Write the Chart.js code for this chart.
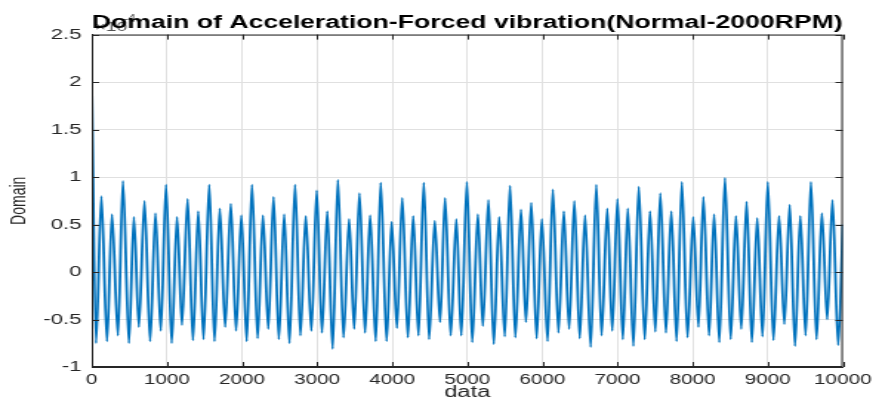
<!DOCTYPE html>
<html>
<head>
<meta charset="utf-8">
<script src="https://cdn.jsdelivr.net/npm/chart.js@4"></script>
<style>
    html, body { margin: 0; padding: 0; background: #ffffff; overflow: hidden; }
    #wrap { width: 879px; height: 408px; }
</style>
</head>
<body>
<div id="wrap">
    <!-- the figure in the picture was stretched sideways, so the canvas is drawn narrow and widened by CSS -->
    <canvas id="vibChart" width="594" height="408" style="width:879px;height:408px"></canvas>
</div>
<script>
// sample index of each turning point of the signal
const sampleIndex = [
    0, 57, 128, 203, 269, 349, 415, 495, 561, 627, 702, 777, 848, 919, 989, 1064,
    1135, 1201, 1276, 1347, 1418, 1488, 1564, 1634, 1705, 1776, 1851, 1921, 1992, 2063,
    2133, 2208, 2279, 2350, 2420, 2491, 2562, 2632, 2707, 2778, 2849, 2924, 2995, 3065,
    3136, 3207, 3277, 3352, 3427, 3494, 3564, 3639, 3706, 3781, 3847, 3926, 3993, 4063,
    4134, 4209, 4280, 4350, 4421, 4492, 4567, 4638, 4704, 4779, 4854, 4920, 4995, 5066,
    5141, 5207, 5282, 5353, 5424, 5499, 5569, 5640, 5715, 5781, 5852, 5923, 5993, 6069,
    6139, 6214, 6285, 6356, 6426, 6497, 6568, 6643, 6718, 6788, 6864, 6930, 7000, 7071,
    7137, 7212, 7283, 7363, 7433, 7504, 7570, 7645, 7716, 7787, 7857, 7932, 8008, 8078,
    8144, 8219, 8286, 8356, 8431, 8507, 8577, 8648, 8719, 8789, 8860, 8931, 9001, 9076,
    9151, 9222, 9293, 9363, 9434, 9505, 9575, 9650, 9721, 9792, 9862, 9938, 10000
];

// acceleration at those points, in units of 1e-4
const accel = [
    2.0, -0.75, 0.80, -0.73, 0.61, -0.67, 0.96, -0.75, 0.58, -0.58, 0.75, -0.73, 0.62, -0.62, 0.92, -0.75,
    0.58, -0.56, 0.77, -0.72, 0.64, -0.71, 0.92, -0.73, 0.67, -0.58, 0.72, -0.62, 0.60, -0.73,
    0.92, -0.70, 0.60, -0.60, 0.79, -0.71, 0.61, -0.75, 0.92, -0.67, 0.59, -0.62, 0.86, -0.64,
    0.64, -0.81, 0.97, -0.69, 0.56, -0.60, 0.83, -0.64, 0.60, -0.73, 0.94, -0.73, 0.53, -0.59,
    0.78, -0.69, 0.59, -0.67, 0.94, -0.71, 0.54, -0.53, 0.78, -0.67, 0.56, -0.67, 0.95, -0.74,
    0.61, -0.57, 0.76, -0.76, 0.58, -0.68, 0.91, -0.69, 0.66, -0.53, 0.73, -0.70, 0.56, -0.73,
    0.87, -0.64, 0.64, -0.60, 0.75, -0.70, 0.60, -0.79, 0.92, -0.67, 0.67, -0.62, 0.77, -0.71,
    0.67, -0.78, 0.90, -0.71, 0.64, -0.63, 0.83, -0.64, 0.64, -0.73, 0.95, -0.69, 0.58, -0.58,
    0.79, -0.67, 0.61, -0.74, 0.99, -0.71, 0.59, -0.60, 0.74, -0.74, 0.57, -0.68, 0.95, -0.72,
    0.59, -0.55, 0.71, -0.78, 0.59, -0.67, 0.95, -0.71, 0.62, -0.50, 0.76, -0.77, 0.50
];

const xTicks = [0, 1000, 2000, 3000, 4000, 5000, 6000, 7000, 8000, 9000, 10000];
const yTicks = [-1, -0.5, 0, 0.5, 1, 1.5, 2, 2.5];

const points = sampleIndex.map((x, i) => ({ x: x, y: accel[i] }));

const textColor = "#262626";
const fontFamily = "'Liberation Sans', Arial, sans-serif";

// box around the axes, inward ticks and the x10^-4 multiplier
const matlabAxes = {
    id: "matlabAxes",
    beforeDraw(chart) {
        const ctx = chart.ctx;
        const area = chart.chartArea;
        ctx.save();
        ctx.fillStyle = "#555555";
        ctx.textBaseline = "alphabetic";
        ctx.font = "13px " + fontFamily;
        ctx.fillText("\u00d710", area.left + 2, area.top - 4);
        ctx.font = "10px " + fontFamily;
        ctx.fillText("-4", area.left + 21, area.top - 13);
        ctx.restore();
    },
    afterDatasetsDraw(chart) {
        const ctx = chart.ctx;
        const area = chart.chartArea;
        const xs = chart.scales.x;
        const ys = chart.scales.y;
        ctx.save();
        ctx.strokeStyle = textColor;
        ctx.lineWidth = 1;
        ctx.strokeRect(area.left + 0.5, area.top + 0.5, area.right - area.left - 1, area.bottom - area.top - 1);
        ctx.beginPath();
        xTicks.forEach((v) => {
            const px = Math.round(xs.getPixelForValue(v)) + 0.5;
            ctx.moveTo(px, area.bottom);
            ctx.lineTo(px, area.bottom - 5);
            ctx.moveTo(px, area.top);
            ctx.lineTo(px, area.top + 5);
        });
        yTicks.forEach((v) => {
            const py = Math.round(ys.getPixelForValue(v)) + 0.5;
            ctx.moveTo(area.left, py);
            ctx.lineTo(area.left + 5, py);
            ctx.moveTo(area.right, py);
            ctx.lineTo(area.right - 5, py);
        });
        ctx.stroke();
        ctx.restore();
    }
};

new Chart(document.getElementById("vibChart"), {
    type: "line",
    data: {
        datasets: [
            {
                label: "Acceleration",
                data: points,
                borderColor: "#0072BD",
                borderWidth: 1.8,
                pointRadius: 0,
                fill: false,
                cubicInterpolationMode: "monotone"
            }
        ]
    },
    options: {
        responsive: false,
        animation: false,
        layout: {
            padding: { top: 0, right: 22, bottom: 0, left: 0 }
        },
        plugins: {
            legend: { display: false },
            tooltip: { enabled: false },
            title: {
                display: true,
                fullSize: false,
                text: "Domain of Acceleration-Forced vibration(Normal-2000RPM)",
                color: "#000000",
                font: { family: fontFamily, size: 18, weight: "bold" },
                padding: { top: 12, bottom: 1 }
            }
        },
        scales: {
            x: {
                type: "linear",
                min: 0,
                max: 10000,
                afterBuildTicks(scale) {
                    scale.ticks = xTicks.map((v) => ({ value: v }));
                },
                afterFit(scale) {
                    scale.height = 41;
                },
                ticks: {
                    color: textColor,
                    padding: 5,
                    maxRotation: 0,
                    autoSkip: false,
                    font: { family: fontFamily, size: 14 },
                    callback: (v) => String(v)
                },
                grid: { color: "#e0e0e0", drawTicks: false },
                border: { color: textColor },
                title: {
                    display: true,
                    text: "data",
                    color: textColor,
                    font: { family: fontFamily, size: 16 },
                    padding: { top: 0, bottom: 6 }
                }
            },
            y: {
                min: -1,
                max: 2.5,
                afterBuildTicks(scale) {
                    scale.ticks = yTicks.map((v) => ({ value: v }));
                },
                afterFit(scale) {
                    scale.width = 62;
                },
                ticks: {
                    color: textColor,
                    padding: 7,
                    font: { family: fontFamily, size: 15 },
                    callback: (v) => String(v)
                },
                grid: { color: "#e0e0e0", drawTicks: false },
                border: { color: textColor },
                title: {
                    display: true,
                    text: "Domain",
                    color: textColor,
                    font: { family: fontFamily, size: 14 },
                    padding: { top: 5, bottom: 0 }
                }
            }
        }
    },
    plugins: [matlabAxes]
});
</script>
</body>
</html>
